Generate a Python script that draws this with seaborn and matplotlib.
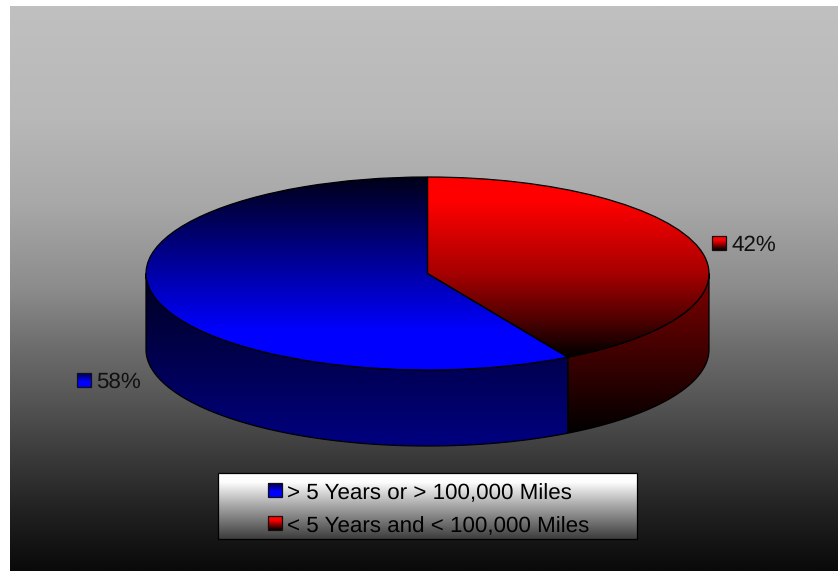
import numpy as np
import seaborn as sns
import matplotlib
matplotlib.use("Agg")
import matplotlib.pyplot as plt
from matplotlib.colors import LinearSegmentedColormap as LSC
from matplotlib.patches import Polygon, Rectangle

categories = ["> 5 Years or > 100,000 Miles", "< 5 Years and < 100,000 Miles"]
shares = [58.3, 41.7]
share_labels = ["58%", "42%"]

W, H = 838, 571
CX, CY, RX, RY, DEPTH = 427.5, 273.5, 281.5, 96.5, 76
FS = 16.1

sns.set_theme(style="white")
plt.rcParams["font.family"] = ["Liberation Sans", "DejaVu Sans"]
plt.rcParams["text.hinting"] = "none"
plt.rcParams["text.hinting_factor"] = 8
palette = sns.color_palette(["#0000ff", "#ff0000"])

fig = plt.figure(figsize=(W / 100, H / 100), dpi=100, facecolor="white")

def pixel_axes(z):
    a = fig.add_axes([0, 0, 1, 1], zorder=z)
    a.set_xlim(0, W)
    a.set_ylim(H, 0)
    a.axis("off")
    a.patch.set_alpha(0)
    return a

def gradient(ax, extent, stops, clip=None, z=1):
    """Vertical gradient; stops run from top to bottom of extent."""
    cmap = LSC.from_list("g", stops)
    lims = ax.get_xlim(), ax.get_ylim()
    im = ax.imshow(np.linspace(0, 1, 256).reshape(-1, 1), cmap=cmap, vmin=0, vmax=1,
                   extent=extent, aspect="auto", origin="upper", zorder=z,
                   interpolation="bilinear")
    ax.set_xlim(lims[0]); ax.set_ylim(lims[1])
    if clip is not None:
        im.set_clip_path(clip)
    return im

bg = pixel_axes(0)
gradient(bg, (10, W, H, 6), [(0, "#c0c0c0"), (0.2, "#b8b8b8"), (0.35, "#a8a8a8"), (0.5, "#8c8c8c"),
                             (0.6, "#6e6e6e"), (0.7, "#555555"), (0.8, "#3a3a3a"), (0.9, "#202020"),
                             (1, "#0a0a0a")])

# pie in unit coordinates, stretched to an ellipse
ax = fig.add_axes([0, 0, 1, 1], zorder=1)
wedges, _ = ax.pie(shares, colors=palette, startangle=90, counterclock=True,
                   wedgeprops=dict(linewidth=0.9, edgecolor="black"))
ax.set_aspect("auto")
ax.set_xlim(-CX / RX, (W - CX) / RX)
ax.set_ylim((CY - H) / RY, CY / RY)
ax.axis("off")
ax.patch.set_alpha(0)

d = DEPTH / RY
top_pos = [[(0, "#000018"), (0.8, "#0000ff"), (1, "#0000ff")],
           [(0, "#ff0000"), (0.14, "#ff0000"), (0.53, "#a80000"), (0.79, "#500000"), (1, "#000000")]]
wall_stops = [[(0, "#000020"), (1, "#000080")],
              [(0, "#800000"), (1, "#000000")]]

for w, tp, ws in zip(wedges, top_pos, wall_stops):
    t1, t2 = w.theta1, w.theta2
    # visible front wall: the part of the arc facing the viewer (180..360 deg)
    a1, a2 = max(t1, 180), min(t2, 360)
    th = np.radians(np.linspace(a1, a2, 200))
    xs, ys = np.cos(th), np.sin(th)
    pts = np.r_[np.c_[xs, ys], np.c_[xs[::-1], ys[::-1] - d]]
    wall = Polygon(pts, closed=True, fc="none", ec="black", lw=0.9, zorder=3)
    ax.add_patch(wall)
    gradient(ax, (xs.min(), xs.max(), ys.min() - d, ys.max()), ws, clip=wall, z=2)
    # top face gradient, clipped by the wedge outline
    th_all = np.radians(np.linspace(t1, t2, 300))
    yy = np.r_[0, np.sin(th_all)]
    xx = np.r_[0, np.cos(th_all)]
    w.set_facecolor("none")
    w.set_zorder(5)
    gradient(ax, (xx.min(), xx.max(), yy.min(), yy.max()), tp, clip=w, z=4)

ov = pixel_axes(2)
KEY = {"blue": [(0, "#000040"), (0.6, "#0000ff"), (1, "#0000ff")],
       "red": [(0, "#ff0000"), (0.3, "#ff0000"), (1, "#000000")]}
def key(x, y, stops):
    r = Rectangle((x, y), 14, 14, fc="none", ec="#101010", lw=0.9, zorder=4)
    ov.add_patch(r)
    gradient(ov, (x, x + 14, y + 14, y), stops, clip=r, z=3)

# legend box
box = Rectangle((218, 472.5), 419, 66.5, fc="none", ec="black", lw=0.9, zorder=4)
ov.add_patch(box)
gradient(ov, (218, 637, 539, 472.5), [(0, "#ffffff"), (0.15, "#fdfdfd"), (0.5, "#a8a8a8"), (1, "#3c3c3c")],
         clip=box, z=2)
key(268, 483, KEY["blue"]); key(268, 516, KEY["red"])
ov.text(287, 491, categories[0], fontsize=FS, color="black", va="center_baseline", zorder=5)
ov.text(287, 524, categories[1], fontsize=FS, color="black", va="center_baseline", zorder=5)

# data labels
key(77, 373, KEY["blue"]); key(712, 236, KEY["red"])
ov.text(96.5, 380, share_labels[0], fontsize=FS, color="#101010", va="center_baseline", zorder=5)
ov.text(731, 243, share_labels[1], fontsize=FS, color="#101010", va="center_baseline", zorder=5)

fig.savefig("out.png", dpi=100, facecolor="white")
